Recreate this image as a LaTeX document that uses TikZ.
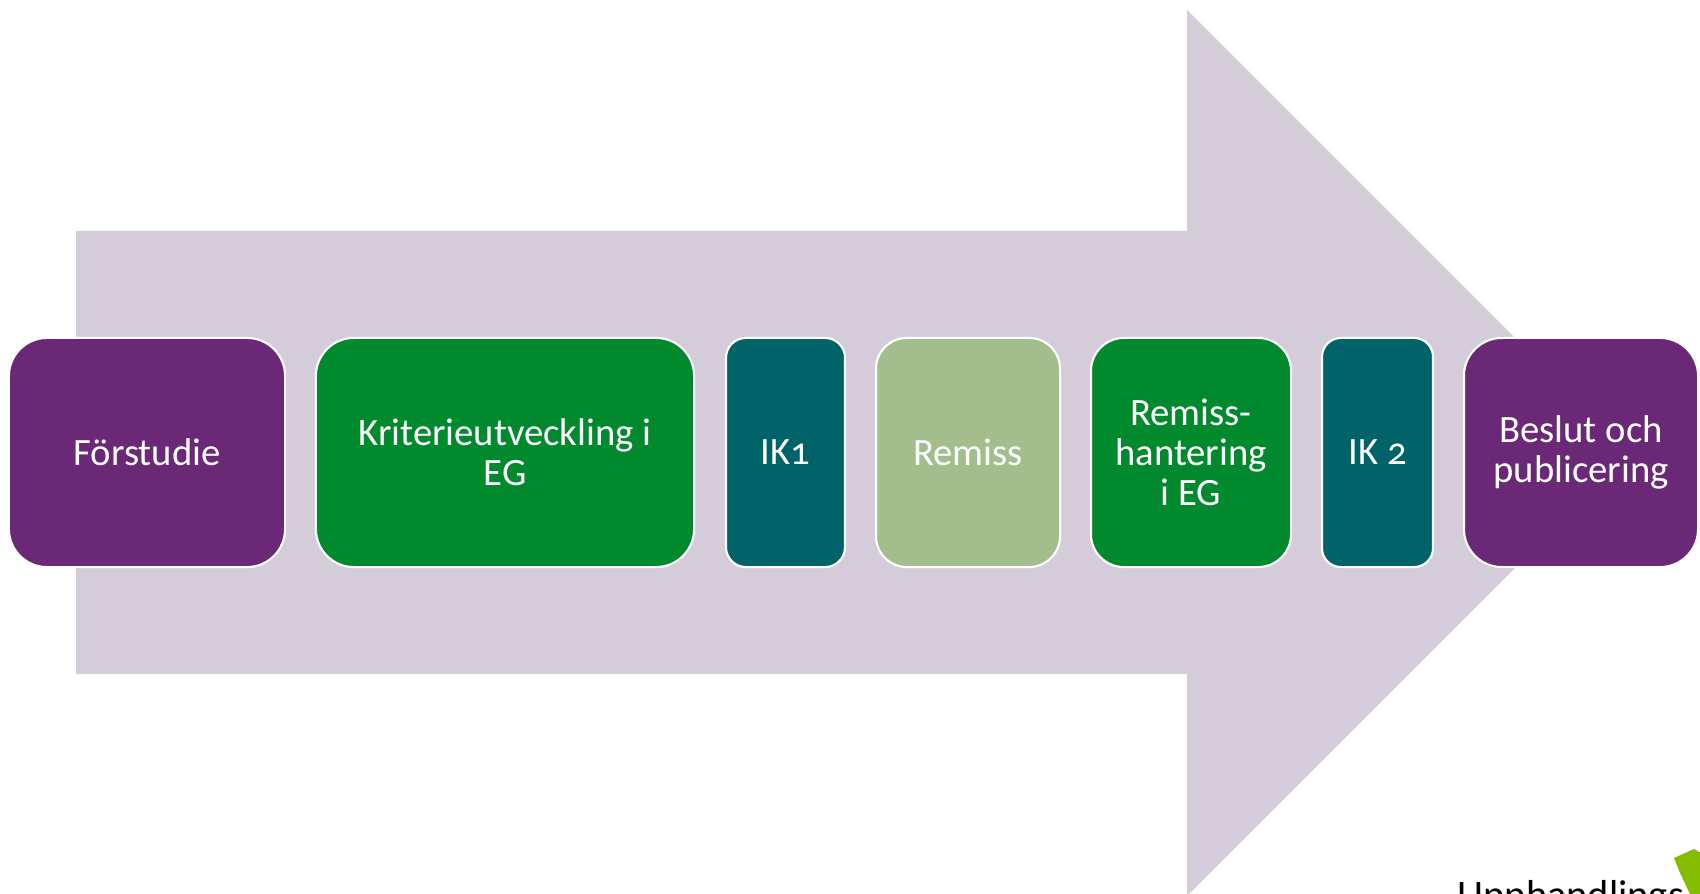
\documentclass[tikz,border=0pt]{standalone}
\usepackage{fontspec}
\setmainfont{Carlito}[Numbers=OldStyle]
\definecolor{arrowbg}{RGB}{212,205,217}
\definecolor{lila}{RGB}{107,40,119}
\definecolor{gron}{RGB}{0,137,45}
\definecolor{teal}{RGB}{0,99,106}
\definecolor{ljusgron}{RGB}{163,190,140}
\definecolor{logogron}{RGB}{132,189,0}

\begin{document}
\begin{tikzpicture}[x=0.01cm,y=-0.01cm,
  phase/.style={draw=white,line width=0.6pt,text=white,align=center,
    minimum height=2.29cm,inner sep=0pt,
    font=\fontsize{11}{11.3}\selectfont}]
\clip (0,0) rectangle (1700,894);
% the big arrow behind the phases
\fill[arrowbg] (76,231) -- (1187,231) -- (1187,10) -- (1630,453)
  -- (1187,896) -- (1187,674) -- (76,674) -- cycle;
% phases
\node[phase,fill=lila,minimum width=2.76cm,rounded corners=0.38cm]
  (forstudie) at (147,452.5) {Förstudie};
\node[phase,fill=gron,minimum width=3.78cm,rounded corners=0.38cm]
  (kriterier) at (505,452.5) {Kriterieutveckling i\\EG};
\node[phase,fill=teal,minimum width=1.19cm,rounded corners=0.2cm]
  (ik1) at (785.5,452.5) {IK1};
\node[phase,fill=ljusgron,minimum width=1.84cm,rounded corners=0.31cm]
  (remiss) at (968,452.5) {Remiss};
\node[phase,fill=gron,minimum width=2cm,rounded corners=0.33cm]
  (remisshant) at (1191,452.5) {Remiss-\\hantering\\i EG};
\node[phase,fill=teal,minimum width=1.11cm,rounded corners=0.19cm]
  (ik2) at (1377.5,452.5) {IK 2};
\node[phase,fill=lila,minimum width=2.34cm,rounded corners=0.38cm]
  (beslut) at (1581,452.5) {Beslut och\\publicering};
% logo, cut by the edge
\node[anchor=base west,inner sep=0pt,font=\fontsize{11.5}{11.5}\selectfont]
  (logotext) at (1457,908) {Upphandlings};
\fill[logogron] (1674,858) -- (1694,849) -- (1714,860) -- (1714,894)
  -- (1690,894) -- (1680,873) -- cycle;
\end{tikzpicture}
\end{document}
